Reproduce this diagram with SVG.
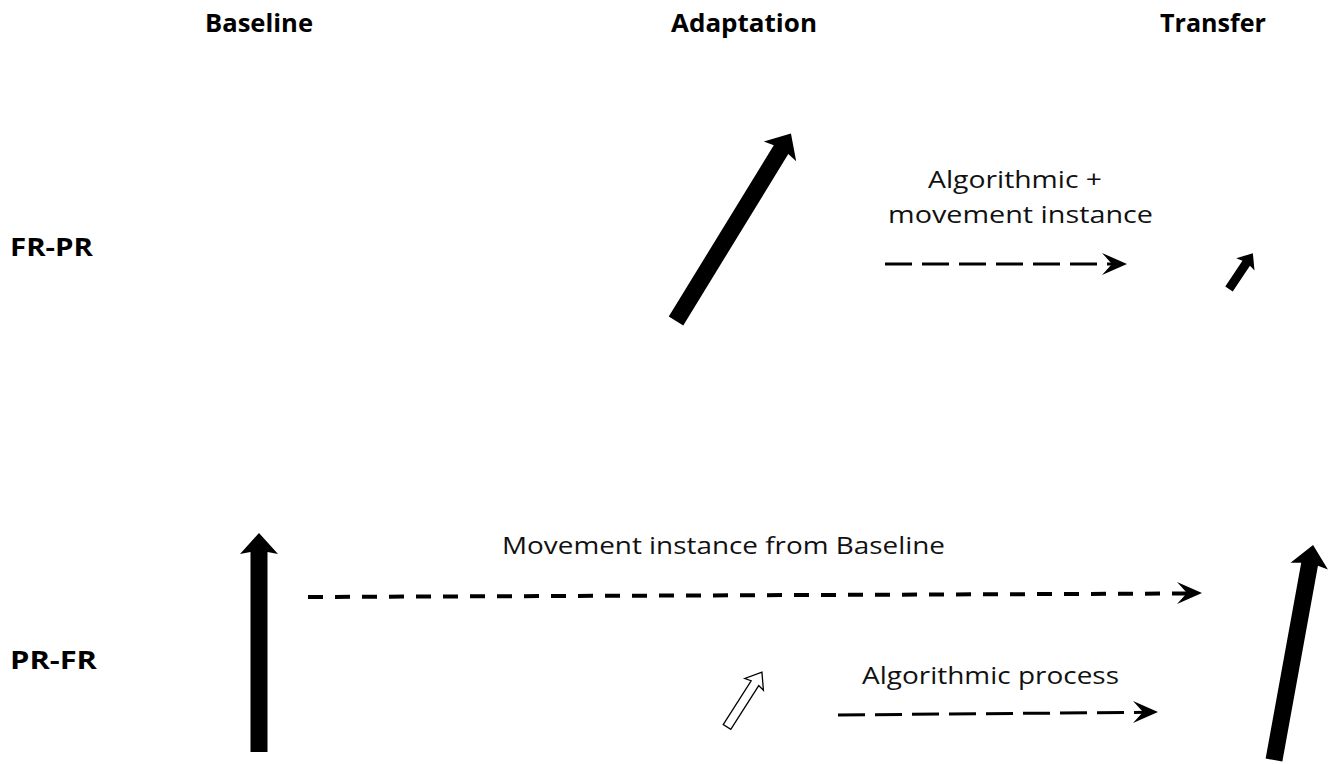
<svg xmlns="http://www.w3.org/2000/svg" width="1330" height="764" viewBox="0 0 1330 764">
  <style>
    .hd { font-family: "Open Sans", "Liberation Sans", sans-serif; font-weight: bold; font-size: 25px; fill: #000; }
    .lb { font-family: "Open Sans", "Liberation Sans", sans-serif; font-size: 23.5px; fill: #111; }
    .big { fill: #000; }
    .hollow { fill: #fff; stroke: #000; stroke-width: 1.3; stroke-linejoin: miter; }
    .dash1 { fill: none; stroke: #000; stroke-width: 3; stroke-dasharray: 27 10; }
    .dash3 { fill: none; stroke: #000; stroke-width: 4; stroke-dasharray: 15 12; }
  </style>
  <rect width="1330" height="764" fill="#fff"/>

  <g id="col-baseline"><text class="hd" x="205" y="32" textLength="108" lengthAdjust="spacingAndGlyphs">Baseline</text></g>
  <g id="col-adaptation"><text class="hd" x="671" y="32" textLength="146" lengthAdjust="spacingAndGlyphs">Adaptation</text></g>
  <g id="col-transfer"><text class="hd" x="1160" y="32" textLength="106" lengthAdjust="spacingAndGlyphs">Transfer</text></g>
  <g id="row-frpr"><text class="hd" x="10" y="256" textLength="83" lengthAdjust="spacingAndGlyphs">FR-PR</text></g>
  <g id="row-prfr"><text class="hd" x="10" y="669" textLength="87" lengthAdjust="spacingAndGlyphs">PR-FR</text></g>

  <g id="frpr-adaptation">
    <path class="big" transform="translate(676,321) rotate(-58.5)" d="M0,-8.5 L201,-8.5 L199,-19 L220,0 L199,19 L201,8.5 L0,8.5 Z"/>
  </g>
  <g id="frpr-transfer">
    <path class="big" transform="translate(1229,289) rotate(-56.3)" d="M0,-4.5 L31,-4.5 L29.5,-11 L43,0 L29.5,11 L31,4.5 L0,4.5 Z"/>
  </g>
  <g id="prfr-baseline">
    <path class="big" transform="translate(259,752) rotate(-90)" d="M0,-8.5 L200,-8.5 L198,-19 L219,0 L198,19 L200,8.5 L0,8.5 Z"/>
  </g>
  <g id="prfr-adaptation">
    <path class="hollow" transform="translate(727,727) rotate(-57.5)" d="M0,-4.5 L52,-4.5 L50.5,-11 L65,0 L50.5,11 L52,4.5 L0,4.5 Z"/>
  </g>
  <g id="prfr-transfer">
    <path class="big" transform="translate(1274,760) rotate(-79.7)" d="M0,-8.5 L199,-8.5 L197,-19 L218.5,0 L197,19 L199,8.5 L0,8.5 Z"/>
  </g>

  <g id="connectors">
    <g id="conn-alg-movement">
      <path class="dash1" d="M885,264 L1114,264"/>
      <path d="M1127,264 L1102,253 L1112,264 L1102,275 Z" fill="#000"/>
    </g>
    <g id="conn-movement-baseline">
      <path class="dash3" d="M308,597 L1190,593.5"/>
      <path d="M1202,593 L1177,582 L1187,593 L1177,604 Z" fill="#000"/>
    </g>
    <g id="conn-alg-process">
      <path class="dash1" d="M838,715 L1145,712.3"/>
      <path d="M1158,712 L1133,701 L1143,712 L1133,723 Z" fill="#000"/>
    </g>
  </g>

  <g id="label-alg-movement">
    <text class="lb" x="928" y="188" textLength="174" lengthAdjust="spacingAndGlyphs">Algorithmic +</text>
    <text class="lb" x="888" y="223" textLength="265" lengthAdjust="spacingAndGlyphs">movement instance</text>
  </g>
  <g id="label-movement-baseline">
    <text class="lb" x="502" y="554" textLength="443" lengthAdjust="spacingAndGlyphs">Movement instance from Baseline</text>
  </g>
  <g id="label-alg-process">
    <text class="lb" x="862" y="684" textLength="257" lengthAdjust="spacingAndGlyphs">Algorithmic process</text>
  </g>
</svg>
